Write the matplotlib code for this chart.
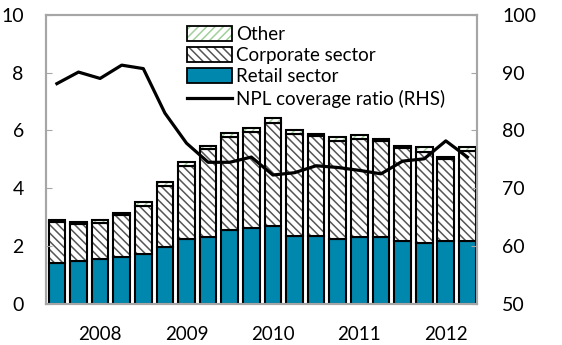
import matplotlib
matplotlib.use("Agg")
import matplotlib.pyplot as plt
import numpy as np
from matplotlib.patches import Patch
from matplotlib.lines import Line2D

plt.rcParams["font.family"] = ["Lato", "DejaVu Sans"]
plt.rcParams["hatch.linewidth"] = 1.1

# quarterly data, 2007Q4 .. 2012Q3
retail = [1.43, 1.49, 1.56, 1.63, 1.74, 1.98, 2.24, 2.30, 2.56, 2.61,
          2.68, 2.36, 2.36, 2.25, 2.30, 2.30, 2.18, 2.12, 2.18, 2.18]
corporate = [1.41, 1.28, 1.23, 1.46, 1.66, 2.10, 2.54, 3.05, 3.23, 3.35,
             3.59, 3.53, 3.46, 3.39, 3.41, 3.34, 3.22, 3.15, 2.84, 3.10]
other = [0.06, 0.06, 0.13, 0.07, 0.14, 0.14, 0.12, 0.13, 0.14, 0.14,
         0.15, 0.14, 0.06, 0.15, 0.14, 0.07, 0.06, 0.15, 0.06, 0.14]
npl_coverage = [88.1, 90.1, 89.0, 91.3, 90.7, 83.0, 77.8, 74.5, 74.5, 75.4,
                72.3, 72.7, 73.9, 73.6, 73.1, 72.5, 74.7, 75.1, 78.2, 75.4]
year_labels = ["2008", "2009", "2010", "2011", "2012"]
year_positions = [2, 6, 10, 14, 18]

RETAIL_COLOR = "#0087ad"
CORP_HATCH = "#555555"
OTHER_HATCH = "#9fd19a"
SPINE_COLOR = "#a6a6a6"

x = np.arange(len(retail))
retail = np.array(retail)
corporate = np.array(corporate)
other = np.array(other)

fig = plt.figure(figsize=(5.62, 3.45), dpi=100)
ax = fig.add_axes([0.082, 0.119, 0.767, 0.838])
ax2 = ax.twinx()

width = 0.77
ax.bar(x, retail, width, color=RETAIL_COLOR, edgecolor="black", linewidth=1.5)
ax.bar(x, corporate, width, bottom=retail, color="white", edgecolor=CORP_HATCH,
       hatch="\\\\\\\\", linewidth=0)
ax.bar(x, corporate, width, bottom=retail, fill=False, edgecolor="black", linewidth=1.5)
ax.bar(x, other, width, bottom=retail + corporate, color="white", edgecolor=OTHER_HATCH,
       hatch="////", linewidth=0)
ax.bar(x, other, width, bottom=retail + corporate, fill=False, edgecolor="black",
       linewidth=1.5)

ax2.plot(x, npl_coverage, color="black", linewidth=2.3)

ax.set_xlim(-0.5, 19.45)
ax.set_ylim(0, 10)
ax2.set_ylim(50, 100)
ax.set_yticks([0, 2, 4, 6, 8, 10])
ax2.set_yticks([50, 60, 70, 80, 90, 100])
ax.set_xticks(year_positions)
ax.set_xticklabels(year_labels)

for a in (ax, ax2):
    for s in a.spines.values():
        s.set_color(SPINE_COLOR)
        s.set_linewidth(1.5)
ax.tick_params(axis="x", length=0, pad=16, labelsize=13.5)
ax.tick_params(axis="y", direction="in", length=4, color=SPINE_COLOR, pad=16,
               labelsize=14)
ax2.tick_params(axis="y", direction="in", length=4, color=SPINE_COLOR, pad=18,
                labelsize=14)

handles = [
    (Patch(facecolor="white", edgecolor=OTHER_HATCH, hatch="////", linewidth=0),
     Patch(fill=False, edgecolor="black", linewidth=1.3)),
    (Patch(facecolor="white", edgecolor=CORP_HATCH, hatch="\\\\\\\\", linewidth=0),
     Patch(fill=False, edgecolor="black", linewidth=1.3)),
    Patch(facecolor=RETAIL_COLOR, edgecolor="black", linewidth=1.3),
    Line2D([], [], color="black", linewidth=2.3),
]
labels = ["Other", "Corporate sector", "Retail sector", "NPL coverage ratio (RHS)"]
ax2.legend(handles, labels, loc="upper left", bbox_to_anchor=(0.3, 1.0),
           frameon=False, fontsize=13.5, handlelength=2.4, handleheight=0.85,
           handletextpad=0.25, labelspacing=0.22, borderaxespad=0.2)

fig.savefig("out.png", dpi=100)
